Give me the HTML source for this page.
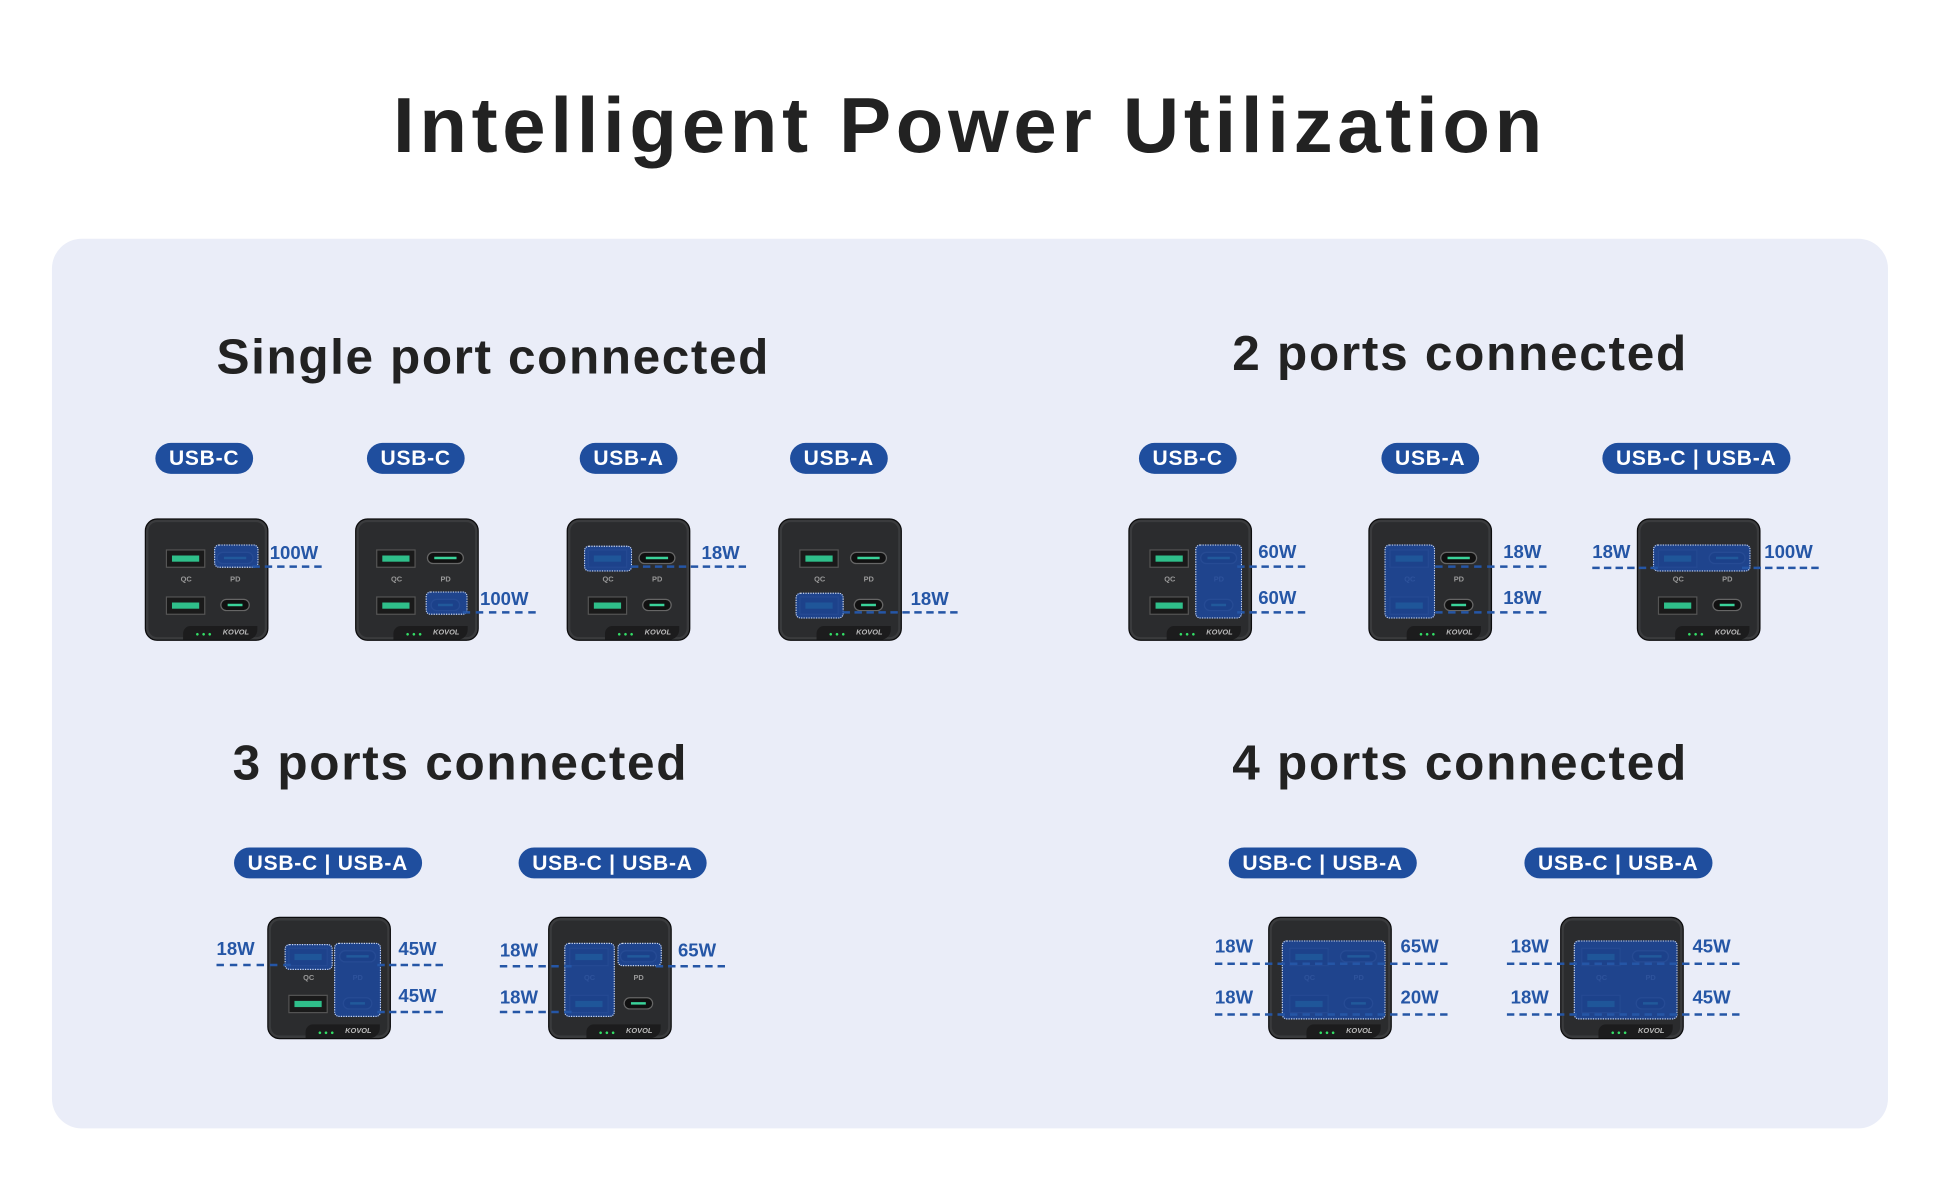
<!DOCTYPE html>
<html><head><meta charset="utf-8"><style>
html,body{margin:0;padding:0;background:#fff;width:1940px;height:1200px;overflow:hidden}
#s{position:absolute;left:0;top:0;width:1568px;height:970px;transform:scale(1.2372);transform-origin:0 0;font-family:"Liberation Sans",sans-serif}
.a{position:absolute}
h1,h2{margin:0;position:absolute;color:#222;font-weight:bold;white-space:nowrap}
.badge{position:absolute;height:25px;line-height:25px;background:#1f4e9e;color:#fff;font-weight:bold;font-size:17px;letter-spacing:0.6px;border-radius:13px;text-align:center;transform:translateX(-50%);padding:0 11px;white-space:nowrap}
.w{position:absolute;color:#2556a6;font-weight:bold;font-size:15px}
.ln{position:absolute;height:0;border-top:2px dashed #2556a6}
.ch{position:absolute;width:98px;height:97px;background:#2b2c2e;border:1.5px solid #0d0d0e;border-radius:10px;box-shadow:inset 0 0 0 2px #3a3b3d}
.ua{position:absolute;width:30px;height:13px;background:#1a1a1a;border:1px solid #555}
.ua i{position:absolute;left:4px;top:4px;width:22px;height:5px;background:#2fbf8a}
.uc{position:absolute;height:8px;background:#111;border:1.5px solid #666;border-radius:6px}
.uc i{position:absolute;left:5px;right:5px;top:3px;height:2px;background:#3ad39a}
.lb{position:absolute;font-size:6px;color:#999;font-weight:bold}
.hl{position:absolute;background:rgba(30,72,155,.88);border:1.5px dotted #cfd8ea;border-radius:4px}
</style></head><body><div id="s">
<h1 style="left:0;width:1568px;text-align:center;top:66px;font-size:63px;letter-spacing:3.8px">Intelligent Power Utilization</h1>
<div class="a" style="left:42px;top:193px;width:1484px;height:719px;background:#eaedf8;border-radius:24px"></div>
<h2 style="left:175px;top:267px;font-size:40px;letter-spacing:1.3px">Single port connected</h2>
<h2 style="left:996px;top:264px;font-size:40px;letter-spacing:1.4px">2 ports connected</h2>
<h2 style="left:188px;top:595px;font-size:40px;letter-spacing:1.4px">3 ports connected</h2>
<h2 style="left:996px;top:595px;font-size:40px;letter-spacing:1.4px">4 ports connected</h2>
<div id="c"></div>
</div>
<script>
var c=document.getElementById('c'),h='';
function badge(x,y,t){h+='<div class="badge" style="left:'+x+'px;top:'+y+'px">'+t+'</div>';}
function w(x,y,t){h+='<div class="w" style="left:'+x+'px;top:'+y+'px">'+t+'</div>';}
function ln(x1,x2,y){h+='<div class="ln" style="left:'+x1+'px;top:'+y+'px;width:'+(x2-x1)+'px"></div>';}
function ch(x,y,H){
 h+='<div class="ch" style="left:'+x+'px;top:'+y+'px">'+
 '<div class="ua" style="left:16px;top:24px"><i></i></div>'+
 '<div class="ua" style="left:16px;top:62px"><i></i></div>'+
 '<div class="uc" style="left:57px;top:26px;width:28px"><i></i></div>'+
 '<div class="uc" style="left:60px;top:64px;width:22px"><i></i></div>'+
 '<div class="lb" style="left:28px;top:46px">QC</div><div class="lb" style="left:68px;top:46px">PD</div>'+
 '<div class="a" style="left:30px;top:86px;width:60px;height:11px;background:#1c1c1d;border-radius:6px 0 8px 0"></div>'+
 '<div class="a" style="left:40px;top:90px;font-size:5px;color:#3d6;letter-spacing:2px">●●●</div>'+
 '<div class="lb" style="left:62px;top:89px;font-style:italic;color:#bbb;font-size:6px">KOVOL</div>';
 (H||[]).forEach(function(r){h+='<div class="hl" style="left:'+r[0]+'px;top:'+r[1]+'px;width:'+r[2]+'px;height:'+r[3]+'px"></div>';});
 h+='</div>';
}
var TC=[55,20,34,17],BC=[56,58,32,17],TA=[13,21,37,19],BA=[13,59,37,19],RC=[53,20,36,58],LA=[12,20,39,58],TR=[12,20,77,20],ALL=[10,18,82,62];
badge(165,358,'USB-C');badge(336,358,'USB-C');badge(508,358,'USB-A');badge(678,358,'USB-A');
ch(117,419,[TC]);w(218,439,'100W');ln(204,260,457);
ch(287,419,[BC]);w(388,476,'100W');ln(374,433,494);
ch(458,419,[TA]);w(567,439,'18W');ln(510,603,457);
ch(629,419,[BA]);w(736,476,'18W');ln(681,774,494);
badge(960,358,'USB-C');badge(1156,358,'USB-A');badge(1371,358,'USB-C | USB-A');
ch(912,419,[RC]);w(1017,438,'60W');w(1017,475,'60W');ln(1000,1055,457);ln(1000,1055,494);
ch(1106,419,[LA]);w(1215,438,'18W');w(1215,475,'18W');ln(1160,1250,457);ln(1160,1250,494);
ch(1323,419,[TR]);w(1287,438,'18W');w(1426,438,'100W');ln(1287,1340,458);ln(1408,1470,458);
badge(265,685,'USB-C | USB-A');badge(495,685,'USB-C | USB-A');
ch(216,741,[TA,RC]);w(175,759,'18W');ln(175,235,779);w(322,759,'45W');w(322,797,'45W');ln(305,358,779);ln(305,358,817);
ch(443,741,[LA,TC]);w(404,760,'18W');w(404,798,'18W');ln(404,462,780);ln(404,462,817);w(548,760,'65W');ln(530,586,780);
badge(1069,685,'USB-C | USB-A');badge(1308,685,'USB-C | USB-A');
ch(1025,741,[ALL]);w(982,757,'18W');w(982,798,'18W');w(1132,757,'65W');w(1132,798,'20W');ln(982,1170,778);ln(982,1170,819);
ch(1261,741,[ALL]);w(1221,757,'18W');w(1221,798,'18W');w(1368,757,'45W');w(1368,798,'45W');ln(1218,1406,778);ln(1218,1406,819);
c.innerHTML=h;
</script>
</body></html>
